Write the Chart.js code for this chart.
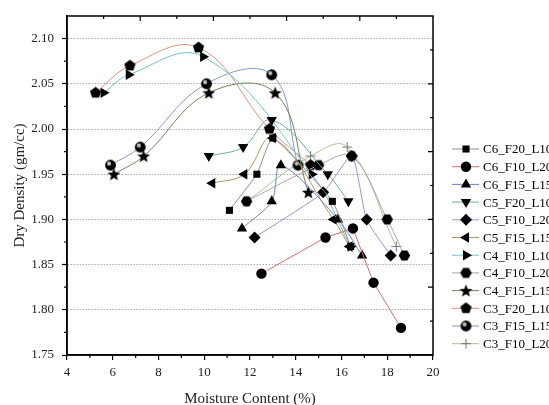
<!DOCTYPE html>
<html>
<head>
<meta charset="utf-8">
<script src="https://cdn.jsdelivr.net/npm/chart.js@4/dist/chart.umd.min.js"></script>
<style>
  html, body { margin: 0; padding: 0; background: #fff; }
  #wrap { width: 549px; height: 405px; }
</style>
</head>
<body>
<div id="wrap"><canvas id="chart" width="549" height="405"></canvas></div>
<script>
// tick labels
const xTicks = [4, 6, 8, 10, 12, 14, 16, 18, 20];
const yTicks = [1.75, 1.80, 1.85, 1.90, 1.95, 2.00, 2.05, 2.10];

// series names, in legend order
const seriesNames = ['C6_F20_L10', 'C6_F10_L20', 'C6_F15_L15', 'C5_F20_L10', 'C5_F10_L20', 'C5_F15_L15',
  'C4_F10_L10', 'C4_F10_L20', 'C4_F15_L15', 'C3_F20_L10', 'C3_F15_L15', 'C3_F10_L20'];

// moisture content (%) and dry density (gm/cc)
const c6f20l10Moisture = [11.1, 12.3, 13.0, 15.6, 16.4];
const c6f20l10Density = [1.91, 1.95, 1.99, 1.92, 1.87];
const c6f10l20Moisture = [12.5, 15.3, 16.5, 17.4, 18.6];
const c6f10l20Density = [1.84, 1.88, 1.89, 1.83, 1.78];
const c6f15l15Moisture = [11.65, 12.95, 13.35, 15.85, 16.9];
const c6f15l15Density = [1.89, 1.92, 1.96, 1.90, 1.86];
const c5f20l10Moisture = [10.2, 11.7, 12.95, 15.4, 16.3];
const c5f20l10Density = [1.97, 1.98, 2.01, 1.95, 1.92];
const c5f10l20Moisture = [12.2, 15.2, 16.45, 17.1, 18.15];
const c5f10l20Density = [1.88, 1.93, 1.97, 1.90, 1.86];
const c5f15l15Moisture = [10.35, 11.75, 13.0, 15.65, 16.35];
const c5f15l15Density = [1.94, 1.95, 1.99, 1.90, 1.87];
const c4f10l10Moisture = [5.6, 6.7, 9.95, 14.7, 16.4];
const c4f10l10Density = [2.04, 2.06, 2.08, 1.95, 1.87];
const c4f10l20Moisture = [11.85, 15.0, 16.45, 18.0, 18.75];
const c4f10l20Density = [1.92, 1.96, 1.97, 1.90, 1.86];
const c4f15l15Moisture = [6.05, 7.35, 10.2, 13.1, 14.55];
const c4f15l15Density = [1.95, 1.97, 2.04, 2.04, 1.93];
const c3f20l10Moisture = [5.25, 6.75, 9.75, 12.85, 14.65];
const c3f20l10Density = [2.04, 2.07, 2.09, 2.00, 1.96];
const c3f15l15Moisture = [5.9, 7.2, 10.1, 12.95, 14.1];
const c3f15l15Density = [1.96, 1.98, 2.05, 2.06, 1.96];
const c3f10l20Moisture = [11.85, 14.65, 16.25, 18.4];
const c3f10l20Density = [1.92, 1.97, 1.98, 1.87];

const moistures = [c6f20l10Moisture, c6f10l20Moisture, c6f15l15Moisture, c5f20l10Moisture, c5f10l20Moisture,
  c5f15l15Moisture, c4f10l10Moisture, c4f10l20Moisture, c4f15l15Moisture, c3f20l10Moisture, c3f15l15Moisture, c3f10l20Moisture];
const densities = [c6f20l10Density, c6f10l20Density, c6f15l15Density, c5f20l10Density, c5f10l20Density,
  c5f15l15Density, c4f10l10Density, c4f10l20Density, c4f15l15Density, c3f20l10Density, c3f15l15Density, c3f10l20Density];

const lineColors = ['#8c8c8c', '#d27066', '#6688c4', '#72a898', '#a98ad8', '#b39465',
  '#72c2c8', '#b4a2aa', '#76805a', '#da9282', '#8199c8', '#a9c292'];

// marker shapes that Chart.js does not have
function makeMarker(size, draw) {
  const c = document.createElement('canvas');
  c.width = size; c.height = size;
  const g = c.getContext('2d');
  g.fillStyle = '#000';
  draw(g, size / 2);
  return c;
}
function polygon(g, m, n, r, rot) {
  g.beginPath();
  for (let i = 0; i < n; i++) {
    const a = rot + i * 2 * Math.PI / n;
    g.lineTo(m + r * Math.cos(a), m + r * Math.sin(a));
  }
  g.closePath();
  g.fill();
}
const pentagon = makeMarker(13, (g, m) => polygon(g, m, 5, 5.9, -Math.PI / 2));
const hexagon = makeMarker(13, (g, m) => polygon(g, m, 6, 5.7, 0));
const star = makeMarker(15, (g, m) => {
  g.beginPath();
  for (let i = 0; i < 10; i++) {
    const r = i % 2 ? 2.9 : 6.8;
    const a = -Math.PI / 2 + i * Math.PI / 5;
    g.lineTo(m + r * Math.cos(a), m + 0.5 + r * Math.sin(a));
  }
  g.closePath();
  g.fill();
});
const sphere = makeMarker(13, (g, m) => {
  g.beginPath(); g.arc(m, m, 5.4, 0, Math.PI * 2); g.fill();
  g.fillStyle = '#bdbdbd';
  g.beginPath(); g.arc(m - 1.4, m - 1.6, 2.1, 0, Math.PI * 2); g.fill();
});

const markers = [
  { style: 'rect', rot: 0, r: 5 },
  { style: 'circle', rot: 0, r: 5.2 },
  { style: 'triangle', rot: 0, r: 6 },
  { style: 'triangle', rot: 180, r: 6 },
  { style: 'rectRot', rot: 0, r: 6 },
  { style: 'triangle', rot: -90, r: 6 },
  { style: 'triangle', rot: 90, r: 6 },
  { style: hexagon, rot: 0, r: 5.5 },
  { style: star, rot: 0, r: 6 },
  { style: pentagon, rot: 0, r: 5.5 },
  { style: sphere, rot: 0, r: 5.3 },
  { style: 'cross', rot: 0, r: 5 }
];
const tensions = [0.15, 0, 0.3, 0.4, 0.2, 0.4, 0.4, 0.35, 0.4, 0.4, 0.4, 0.4];

const datasets = seriesNames.map((name, i) => {
  const isPlus = markers[i].style === 'cross';
  return {
    label: name,
    data: moistures[i].map((x, j) => ({ x: x, y: densities[i][j] })),
    showLine: true,
    borderColor: lineColors[i],
    borderWidth: 1,
    tension: tensions[i],
    pointStyle: markers[i].style,
    pointRotation: markers[i].rot,
    pointRadius: markers[i].r,
    pointBackgroundColor: '#000',
    pointBorderColor: isPlus ? '#777' : '#000',
    pointBorderWidth: isPlus ? 1 : 0
  };
});

const serif = "'Liberation Serif', 'Times New Roman', serif";

// frame, inward top/right ticks, minor ticks and the legend at the right
const extrasPlugin = {
  id: 'extras',
  afterDraw(chart) {
    const { ctx, chartArea: a } = chart;
    const xs = chart.scales.x, ys = chart.scales.y;
    ctx.save();
    ctx.strokeStyle = '#000';
    ctx.lineWidth = 1.5;
    ctx.strokeRect(a.left, a.top, a.right - a.left, a.bottom - a.top);
    ctx.lineWidth = 1.2;
    ctx.beginPath();
    for (let v = 5; v < 20; v += 2) {
      const px = xs.getPixelForValue(v);
      ctx.moveTo(px, a.bottom); ctx.lineTo(px, a.bottom + 3);
    }
    for (let v = 1.775; v < 2.12; v += 0.05) {
      const py = ys.getPixelForValue(v);
      ctx.moveTo(a.left, py); ctx.lineTo(a.left - 3, py);
    }
    for (let k = 1; k < 10; k++) {
      const len = k % 2 ? 3 : 5;
      const px = a.left + (a.right - a.left) * k / 10;
      ctx.moveTo(px, a.top); ctx.lineTo(px, a.top + len);
      const py = a.bottom - (a.bottom - a.top) * k / 10;
      ctx.moveTo(a.right, py); ctx.lineTo(a.right - len, py);
    }
    ctx.stroke();

    ctx.font = '13px ' + serif;
    ctx.textBaseline = 'middle';
    chart.data.datasets.forEach((ds, i) => {
      const y = 149 + i * 17.7;
      ctx.strokeStyle = ds.borderColor;
      ctx.lineWidth = 1;
      ctx.beginPath(); ctx.moveTo(452, y); ctx.lineTo(479, y); ctx.stroke();
      ctx.fillStyle = '#000';
      ctx.strokeStyle = ds.pointBorderColor;
      ctx.lineWidth = ds.pointBorderWidth;
      Chart.helpers.drawPoint(ctx, {
        pointStyle: ds.pointStyle, rotation: ds.pointRotation,
        radius: ds.pointRadius, borderWidth: ds.pointBorderWidth
      }, 466, y);
      ctx.fillStyle = '#000';
      ctx.fillText(ds.label, 483, y + 1);
    });
    ctx.restore();
  }
};

new Chart(document.getElementById('chart'), {
  type: 'scatter',
  data: { datasets: datasets },
  plugins: [extrasPlugin],
  options: {
    responsive: false,
    devicePixelRatio: 1,
    animation: false,
    layout: { padding: { top: 16, right: 116, bottom: 0, left: 0 } },
    plugins: { legend: { display: false }, tooltip: { enabled: false } },
    scales: {
      x: {
        type: 'linear', min: 4, max: 20,
        afterBuildTicks: (s) => { s.ticks = xTicks.map(v => ({ value: v })); },
        afterFit: (s) => { s.height = 50; },
        grid: { drawOnChartArea: false, tickLength: 5, color: '#000', lineWidth: 1.2 },
        border: { color: '#000', width: 1.5 },
        ticks: { color: '#222', padding: 5, font: { family: serif, size: 13 } },
        title: { display: true, text: 'Moisture Content (%)', color: '#222', padding: { top: 0, bottom: -3 },
          font: { family: serif, size: 15 } }
      },
      y: {
        type: 'linear', min: 1.75, max: 2.125,
        afterBuildTicks: (s) => { s.ticks = yTicks.map(v => ({ value: v })); },
        afterFit: (s) => { s.width = 67; },
        grid: { color: '#aaaaaa', lineWidth: 1, tickLength: 5, tickColor: '#000', tickWidth: 1.2 },
        border: { color: '#000', width: 1.5, dash: [1.5, 1.5] },
        ticks: { color: '#222', padding: 8, font: { family: serif, size: 13 }, callback: (v) => Number(v).toFixed(2) },
        title: { display: true, text: 'Dry Density (gm/cc)', color: '#222', padding: { top: 11, bottom: 0 },
          font: { family: serif, size: 15 } }
      }
    }
  }
});
</script>
</body>
</html>
